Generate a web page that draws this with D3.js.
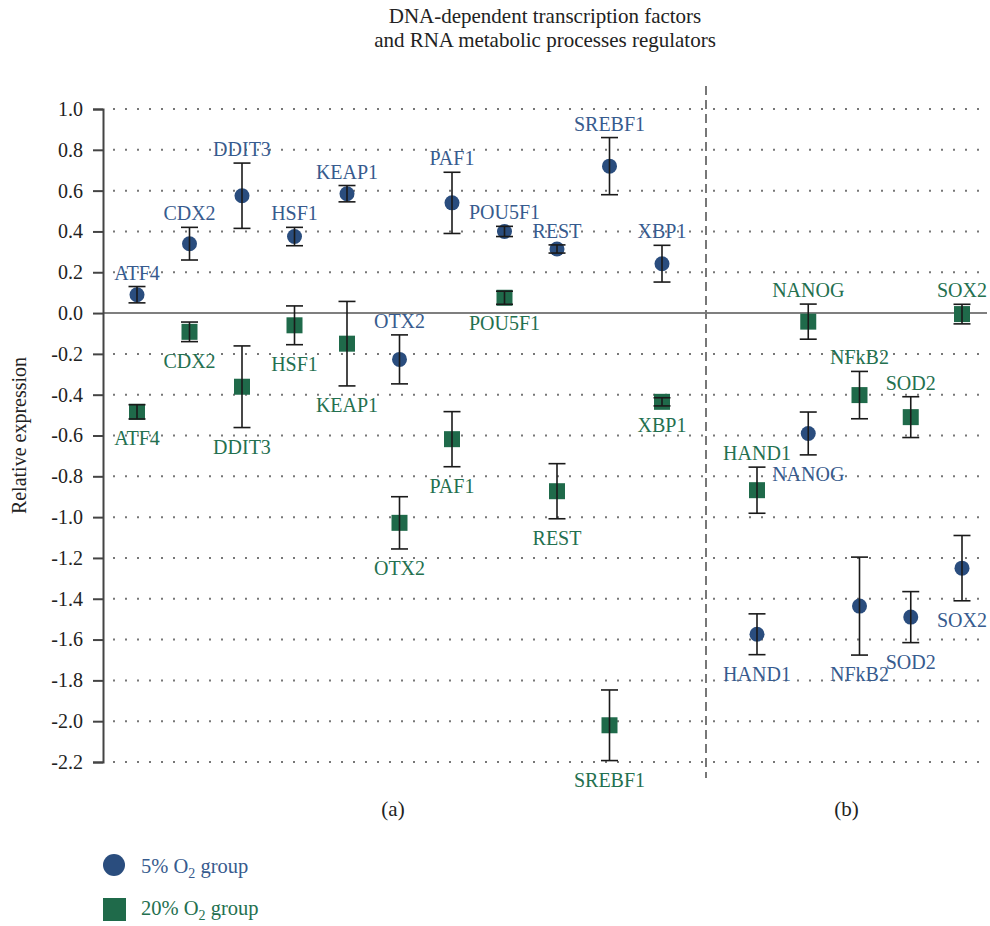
<!DOCTYPE html>
<html>
<head>
<meta charset="utf-8">
<script src="https://cdn.jsdelivr.net/npm/d3@7"></script>
<style>
    body { margin: 0; background: #fff; }
    text { font-family: "Liberation Serif", "DejaVu Serif", serif; }
</style>
</head>
<body>
<div id="chart"></div>
<script>
// genes in panel (a) and panel (b)
var genesA = ["ATF4", "CDX2", "DDIT3", "HSF1", "KEAP1", "OTX2", "PAF1", "POU5F1", "REST", "SREBF1", "XBP1"];
var genesB = ["HAND1", "NANOG", "NFkB2", "SOD2", "SOX2"];

// 5% O2 group
var mean5A = [0.09, 0.34, 0.575, 0.375, 0.585, -0.227, 0.54, 0.40, 0.314, 0.72, 0.242];
var err5A = [0.04, 0.08, 0.16, 0.045, 0.04, 0.12, 0.15, 0.025, 0.02, 0.14, 0.09];
var mean5B = [-1.574, -0.59, -1.436, -1.49, -1.25];
var err5B = [0.1, 0.105, 0.24, 0.125, 0.16];

// 20% O2 group
var mean20A = [-0.484, -0.092, -0.361, -0.06, -0.15, -1.028, -0.618, 0.075, -0.873, -2.02, -0.435];
var err20A = [0.035, 0.048, 0.2, 0.095, 0.207, 0.128, 0.135, 0.032, 0.135, 0.173, 0.02];
var mean20B = [-0.868, -0.042, -0.402, -0.51, -0.005];
var err20B = [0.113, 0.086, 0.116, 0.1, 0.048];

var yTicks = [1.0, 0.8, 0.6, 0.4, 0.2, 0.0, -0.2, -0.4, -0.6, -0.8, -1.0, -1.2, -1.4, -1.6, -1.8, -2.0, -2.2];
var titleLines = ["DNA-dependent transcription factors", "and RNA metabolic processes regulators"];
var panelNames = ["(a)", "(b)"];

var blue = "#2a4d7e", blueText = "#375b8e";
var green = "#1f6a4a", greenText = "#24704f";

var width = 990, height = 926;
var svg = d3.select('#chart').append('svg')
    .attr("width", width)
    .attr("height", height);

var left = 103, right = 987, split = 706;

var y = d3.scaleLinear().domain([-2.2, 1.0]).range([762, 109]);
var xA = d3.scalePoint().domain(genesA).range([137, 662]);
var xB = d3.scalePoint().domain(genesB).range([757, 962]);

function rows(genes, means, errs, x, side) {
    return genes.map(function (g, i) {
        return { gene: g, x: x(g), m: means[i], e: errs[i], side: side };
    });
}

var series = [
    { key: "low", fill: blue, text: blueText,
      data: rows(genesA, mean5A, err5A, xA, "above").concat(rows(genesB, mean5B, err5B, xB, "below")) },
    { key: "high", fill: green, text: greenText,
      data: rows(genesA, mean20A, err20A, xA, "below").concat(rows(genesB, mean20B, err20B, xB, "above")) }
];

// title
svg.append("g")
    .attr("font-size", 21)
    .attr("fill", "#222")
    .attr("text-anchor", "middle")
    .selectAll("text")
    .data(titleLines)
    .enter().append("text")
    .attr("x", (left + right) / 2)
    .attr("y", function (d, i) { return 23 + i * 24; })
    .text(function (d) { return d; });

// dotted grid
svg.append("g")
    .selectAll("line")
    .data(yTicks.filter(function (d) { return d !== 0; }))
    .enter().append("line")
    .attr("x1", left + 10)
    .attr("x2", right)
    .attr("y1", function (d) { return y(d); })
    .attr("y2", function (d) { return y(d); })
    .attr("stroke", "#777")
    .attr("stroke-width", 2)
    .attr("stroke-dasharray", "2,10");

// zero line
svg.append("line")
    .attr("x1", left).attr("x2", right)
    .attr("y1", y(0)).attr("y2", y(0))
    .attr("stroke", "#555")
    .attr("stroke-width", 1.6);

// panel divider
svg.append("line")
    .attr("x1", split).attr("x2", split)
    .attr("y1", 86).attr("y2", 778)
    .attr("stroke", "#777")
    .attr("stroke-width", 2)
    .attr("stroke-dasharray", "9,5");

// y axis
var yAxis = svg.append("g")
    .attr("transform", "translate(" + left + ",0)")
    .call(d3.axisLeft(y).tickValues(yTicks).tickSize(10).tickPadding(10)
        .tickFormat(function (d) { return d.toFixed(1); }));
yAxis.select(".domain").attr("stroke", "#444").attr("stroke-width", 2);
yAxis.selectAll(".tick line").attr("stroke", "#444").attr("stroke-width", 2);
yAxis.selectAll(".tick text")
    .attr("font-size", 20)
    .attr("font-family", '"Liberation Serif", serif')
    .attr("fill", "#222");

svg.append("text")
    .attr("transform", "translate(26," + y(-0.6) + ") rotate(-90)")
    .attr("text-anchor", "middle")
    .attr("font-size", 20)
    .attr("fill", "#222")
    .text("Relative expression");

// panel names
svg.append("g")
    .attr("font-size", 21)
    .attr("fill", "#222")
    .attr("text-anchor", "middle")
    .selectAll("text")
    .data(panelNames)
    .enter().append("text")
    .attr("x", function (d, i) { return i === 0 ? 393 : (split + right) / 2; })
    .attr("y", 816)
    .text(function (d) { return d; });

// markers
series.forEach(function (s) {
    var g = svg.append("g").attr("class", s.key);

    if (s.key === "low") {
        g.selectAll("circle")
            .data(s.data)
            .enter().append("circle")
            .attr("cx", function (d) { return d.x; })
            .attr("cy", function (d) { return y(d.m); })
            .attr("r", 7.5)
            .attr("fill", s.fill);
    } else {
        g.selectAll("rect")
            .data(s.data)
            .enter().append("rect")
            .attr("x", function (d) { return d.x - 8; })
            .attr("y", function (d) { return y(d.m) - 8; })
            .attr("width", 16)
            .attr("height", 16)
            .attr("fill", s.fill);
    }

    // error bars on top of markers
    var bars = g.append("g")
        .attr("stroke", "#1a1a1a")
        .attr("stroke-width", 1.6)
        .selectAll("g")
        .data(s.data)
        .enter().append("g");
    bars.append("line")
        .attr("x1", function (d) { return d.x; })
        .attr("x2", function (d) { return d.x; })
        .attr("y1", function (d) { return y(d.m + d.e); })
        .attr("y2", function (d) { return y(d.m - d.e); });
    bars.append("line")
        .attr("x1", function (d) { return d.x - 8.5; })
        .attr("x2", function (d) { return d.x + 8.5; })
        .attr("y1", function (d) { return y(d.m + d.e); })
        .attr("y2", function (d) { return y(d.m + d.e); });
    bars.append("line")
        .attr("x1", function (d) { return d.x - 8.5; })
        .attr("x2", function (d) { return d.x + 8.5; })
        .attr("y1", function (d) { return y(d.m - d.e); })
        .attr("y2", function (d) { return y(d.m - d.e); });

    g.append("g")
        .attr("font-size", 20)
        .attr("fill", s.text)
        .attr("text-anchor", "middle")
        .selectAll("text")
        .data(s.data)
        .enter().append("text")
        .attr("x", function (d) { return d.x; })
        .attr("y", function (d) {
            return d.side === "above" ? y(d.m + d.e) - 7 : y(d.m - d.e) + 26;
        })
        .text(function (d) { return d.gene; });
});

// legend
var legend = svg.append("g").attr("font-size", 20.5);
legend.append("circle")
    .attr("cx", 114).attr("cy", 865).attr("r", 11)
    .attr("fill", blue);
legend.append("rect")
    .attr("x", 103).attr("y", 898).attr("width", 23).attr("height", 23)
    .attr("fill", green);

var t1 = legend.append("text").attr("x", 141).attr("y", 873).attr("fill", blueText);
t1.append("tspan").text("5% O");
t1.append("tspan").attr("font-size", 14).attr("dy", 5).text("2");
t1.append("tspan").attr("dy", -5).text(" group");

var t2 = legend.append("text").attr("x", 141).attr("y", 915).attr("fill", greenText);
t2.append("tspan").text("20% O");
t2.append("tspan").attr("font-size", 14).attr("dy", 5).text("2");
t2.append("tspan").attr("dy", -5).text(" group");
</script>
</body>
</html>
